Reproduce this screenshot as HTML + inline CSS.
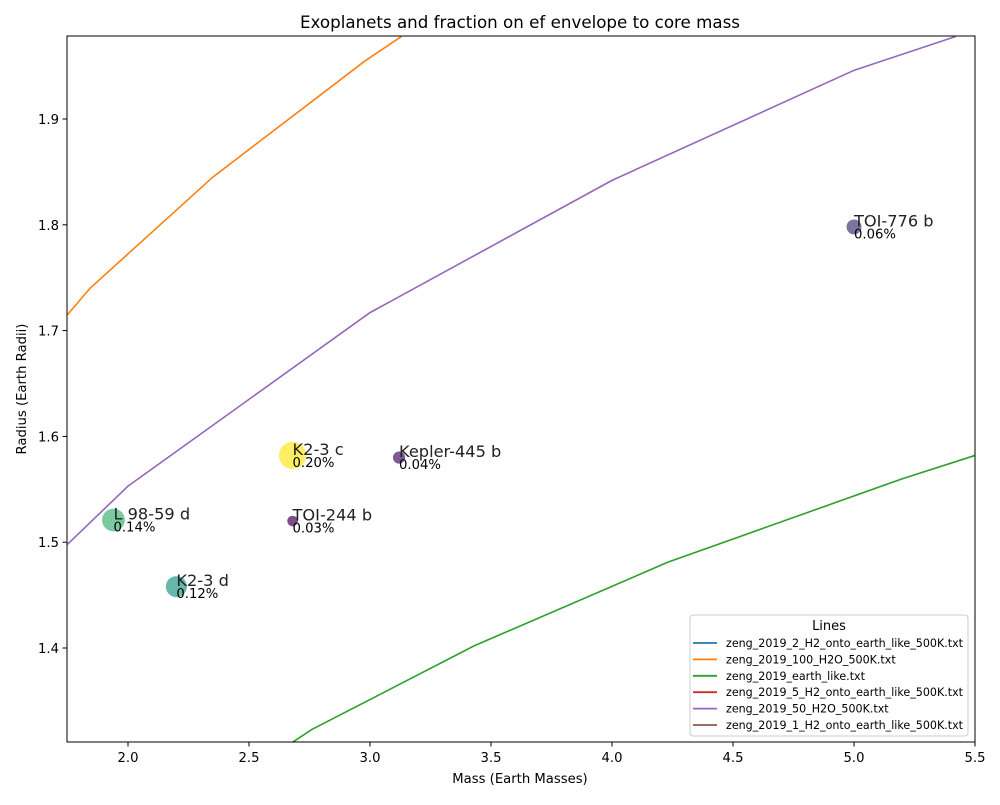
<!DOCTYPE html>
<html><head><meta charset="utf-8"><style>
body{margin:0;background:#fff;}
svg text{font-family:"DejaVu Sans","Liberation Sans",sans-serif;}
</style></head><body>
<svg id="chart" width="1000" height="800" xmlns="http://www.w3.org/2000/svg">
<rect width="1000" height="800" fill="#fff"/>
<text x="520" y="28" font-size="16.7" text-anchor="middle" fill="#000">Exoplanets and fraction on ef envelope to core mass</text>
<g id="lines"></g>
<g id="points"></g>
<g id="labels"></g>
<rect x="67" y="36" width="908" height="706" fill="none" stroke="#000" stroke-width="1"/>
<g id="xticks"></g>
<g id="yticks"></g>
<text x="520" y="783" font-size="13.2" text-anchor="middle">Mass (Earth Masses)</text>
<text transform="translate(26,389) rotate(-90)" font-size="13.2" text-anchor="middle">Radius (Earth Radii)</text>
<g id="legend">
<rect x="690" y="615" width="278" height="121" fill="#fff" fill-opacity="0.8" stroke="#ccc" rx="3"/>
<text x="829" y="630" font-size="13" text-anchor="middle">Lines</text>
</g>
</svg>
<script>
const xTicks=[2.0,2.5,3.0,3.5,4.0,4.5,5.0,5.5];
const yTicks=[1.4,1.5,1.6,1.7,1.8,1.9];
const orangeMass=[1.75,1.843,2.35,2.98,3.13];
const orangeRad=[1.715,1.74,1.845,1.955,1.978];
const purpleMass=[1.75,2.0,3.0,4.0,5.0,5.42];
const purpleRad=[1.498,1.553,1.717,1.842,1.946,1.978];
const greenMass=[2.68,2.76,3.43,4.23,5.2,5.5];
const greenRad=[1.311,1.323,1.402,1.481,1.56,1.582];
const planetNames=["TOI-776 b","K2-3 c","Kepler-445 b","L 98-59 d","TOI-244 b","K2-3 d"];
const planetMass=[5.0,2.68,3.12,1.94,2.68,2.2];
const planetRad=[1.798,1.582,1.58,1.521,1.52,1.458];
const planetFrac=[0.06,0.20,0.04,0.14,0.03,0.12];
const legendNames=["zeng_2019_2_H2_onto_earth_like_500K.txt","zeng_2019_100_H2O_500K.txt","zeng_2019_earth_like.txt","zeng_2019_5_H2_onto_earth_like_500K.txt","zeng_2019_50_H2O_500K.txt","zeng_2019_1_H2_onto_earth_like_500K.txt"];
const legendColors=["#1f77b4","#ff7f0e","#2ca02c","#d62728","#9467bd","#8c564b"];

const X=m=>128+(m-2.0)*242;
const Y=r=>119+(1.9-r)*1058;
const NS="http://www.w3.org/2000/svg";
function mk(tag,attrs,parent){const e=document.createElementNS(NS,tag);for(const k in attrs)e.setAttribute(k,attrs[k]);parent.appendChild(e);return e;}
const viridis=[[0,[68,1,84]],[0.25,[59,82,139]],[0.5,[33,145,140]],[0.75,[94,201,98]],[1,[253,231,37]]];
function vcol(t){for(let i=0;i<viridis.length-1;i++){const[a,ca]=viridis[i],[b,cb]=viridis[i+1];if(t<=b){const f=(t-a)/(b-a);return`rgb(${ca.map((c,j)=>Math.round(c+(cb[j]-c)*f)).join(',')})`;}}return'rgb(253,231,37)';}

const lines=document.getElementById('lines');
function drawLine(ms,rs,col,name){const p=mk('polyline',{points:ms.map((m,i)=>X(m)+','+Y(rs[i])).join(' '),fill:'none',stroke:col,'stroke-width':1.6},lines);

}
drawLine(orangeMass,orangeRad,'#ff7f0e','line-100-h2o');
drawLine(purpleMass,purpleRad,'#9467bd','line-50-h2o');
drawLine(greenMass,greenRad,'#2ca02c','line-earth-like');

const pts=document.getElementById('points'),lab=document.getElementById('labels');
const fmin=Math.min(...planetFrac),fmax=Math.max(...planetFrac);
planetNames.forEach((n,i)=>{
 const cx=X(planetMass[i]),cy=Y(planetRad[i]);
 const c=mk('circle',{cx:cx,cy:cy,r:30.5*Math.sqrt(planetFrac[i]),fill:vcol((planetFrac[i]-fmin)/(fmax-fmin)),'fill-opacity':0.7},pts);
 
 
 const t=mk('text',{x:cx,y:cy-0.5,'font-size':16.2,fill:'#222'},lab);t.textContent=n;
 
 
 const t2=mk('text',{x:cx,y:cy+11.5,'font-size':13.2,fill:'#000'},lab);t2.textContent=planetFrac[i].toFixed(2)+'%';
 
 
});

const xt=document.getElementById('xticks');
xTicks.forEach(v=>{const x=X(v);mk('line',{x1:x,x2:x,y1:742,y2:746.5,stroke:'#000'},xt);
 const t=mk('text',{x:x,y:762,'font-size':13.2,'text-anchor':'middle'},xt);t.textContent=v.toFixed(1);
 
 });
const yt=document.getElementById('yticks');
yTicks.forEach(v=>{const y=Y(v);mk('line',{x1:62.5,x2:67,y1:y,y2:y,stroke:'#000'},yt);
 const t=mk('text',{x:59,y:y+5,'font-size':13.2,'text-anchor':'end'},yt);t.textContent=v.toFixed(1);
 
 });

const lg=document.getElementById('legend');
legendNames.forEach((n,i)=>{const y=643+i*16.4;
 const l=mk('line',{x1:693,x2:717,y1:y,y2:y,stroke:legendColors[i],'stroke-width':1.8},lg);
 
 
 const t=mk('text',{x:726,y:y+4,'font-size':11.1},lg);t.textContent=n;
 
 });
</script>
</body></html>
